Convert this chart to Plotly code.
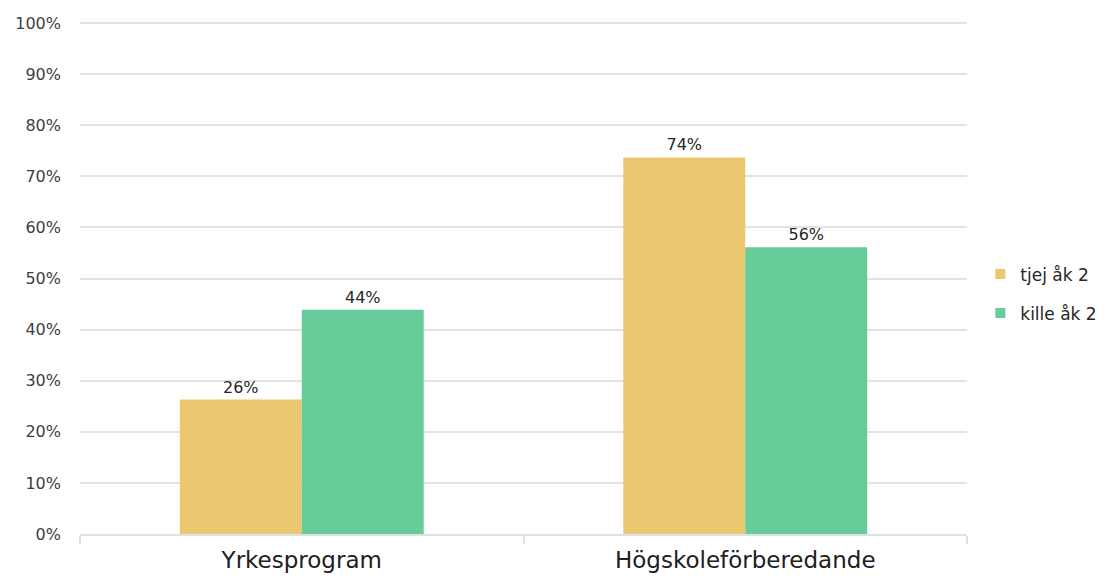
import plotly.graph_objects as go

categories = ["Yrkesprogram", "Högskoleförberedande"]
series_names = ["tjej åk 2", "kille åk 2"]
tjej_values = [0.263, 0.737]
kille_values = [0.439, 0.561]
tjej_labels = ["26%", "74%"]
kille_labels = ["44%", "56%"]
y_tickvals = [i / 10 for i in range(11)]
y_ticktext = [f"{i*10}%" for i in range(11)]

colors = ["#EBC870", "#66CC99"]
font_family = "DejaVu Sans, sans-serif"

fig = go.Figure()
for i, (name, vals, labels, col) in enumerate([
    (series_names[0], tjej_values, tjej_labels, colors[0]),
    (series_names[1], kille_values, kille_labels, colors[1]),
]):
    fig.add_trace(go.Bar(
        x=categories, y=vals, name=name, marker_color=col,
        marker_line_width=0, showlegend=False,
        text=labels, textposition="outside", cliponaxis=False,
        textfont=dict(size=16, color="#262626", family=font_family),
    ))
    # legend entry with a small square marker
    fig.add_trace(go.Scatter(
        x=[None], y=[None], mode="markers", name=name,
        marker=dict(symbol="square", size=10, color=col),
        legendgroup=f"g{i}", showlegend=True,
    ))

# page body adds an 8px offset, so the figure is 8px smaller and margins shifted
fig.update_layout(
    width=1104, height=568,
    barmode="group", bargap=0.45, bargroupgap=0,
    plot_bgcolor="white", paper_bgcolor="white",
    margin=dict(l=72, r=145, t=13, b=42, autoexpand=False),
    font=dict(family=font_family, color="#404040"),
    legend=dict(
        x=1.015, y=0.468, xanchor="left", yanchor="middle",
        font=dict(size=17, color="#262626"),
        itemwidth=30, tracegroupgap=14, traceorder="grouped",
    ),
)
fig.update_yaxes(
    range=[0, 1.004], tickvals=y_tickvals, ticktext=y_ticktext,
    showgrid=True, gridcolor="#E3E3E3", gridwidth=2,
    zeroline=False, showline=False, automargin=False,
    tickfont=dict(size=16, color="#404040"),
    ticks="", ticklabelstandoff=18,
)
fig.update_xaxes(
    showline=True, linecolor="#E0E0E0", linewidth=2, automargin=False,
    ticks="outside", tickson="boundaries", ticklen=8, tickcolor="#E0E0E0",
    tickwidth=2, ticklabelstandoff=4,
    tickfont=dict(size=23, color="#202020"),
    showgrid=False,
)

fig.write_html("out.html")
